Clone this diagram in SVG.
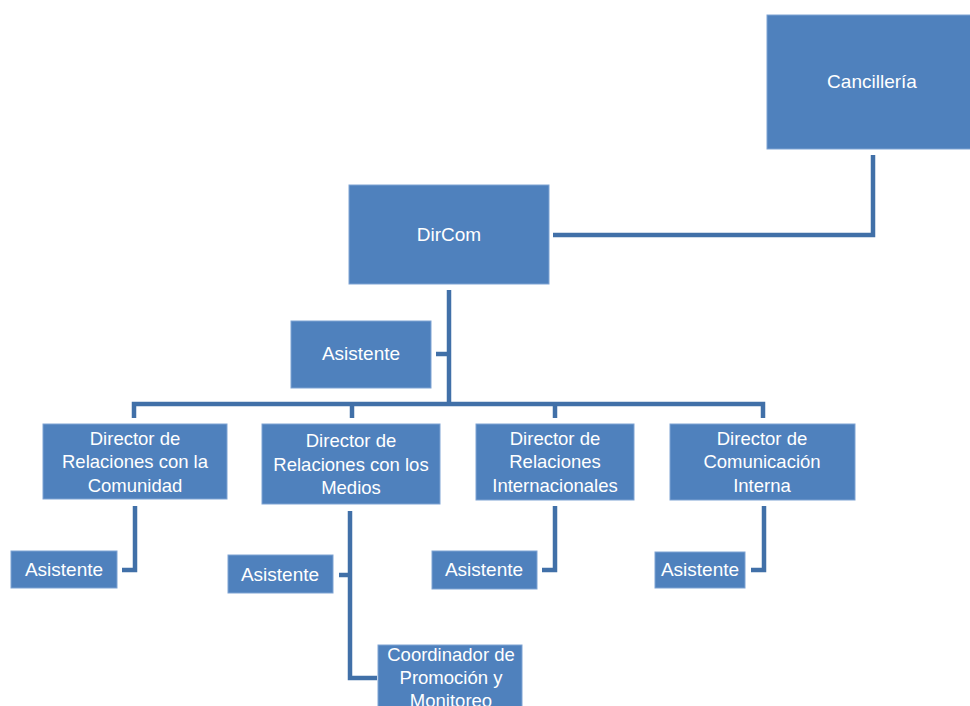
<svg xmlns="http://www.w3.org/2000/svg" width="970" height="706" viewBox="0 0 970 706">
<style>
.box{fill:#4F81BD;stroke:#7FA3D3;stroke-width:1}
.t{font-family:"Liberation Sans",Arial,sans-serif;font-size:19px;fill:#FFFFFF;text-anchor:middle}
.m{font-size:18.5px}
.c{fill:none;stroke:#4170A8;stroke-width:4.5;stroke-linejoin:miter}
</style>
<rect width="970" height="706" fill="#FFFFFF"/>
<g id="connectors">
<polyline class="c" stroke="#3C689E" points="873,155 873,235 553,235"/>
<polyline class="c" points="449,290 449,404"/>
<polyline class="c" points="436,354 449,354"/>
<polyline class="c" points="134,418 134,404 763,404 763,418"/>
<polyline class="c" points="352,404 352,418"/>
<polyline class="c" points="555,404 555,418"/>
<polyline class="c" points="135,506 135,570 122,570"/>
<polyline class="c" points="350,511 350,678 377,678"/>
<polyline class="c" points="339,575 350,575"/>
<polyline class="c" points="555,506 555,570 542,570"/>
<polyline class="c" points="764,506 764,570 751,570"/>
</g>
<g id="cancilleria"><rect class="box" x="767" y="15" width="206" height="134"/><text class="t" x="872" y="88">Cancillería</text></g>
<g id="dircom"><rect class="box" x="349" y="185" width="200" height="99"/><text class="t" x="449" y="241">DirCom</text></g>
<g id="asistente0"><rect class="box" x="291" y="321" width="140" height="67"/><text class="t" x="361" y="360">Asistente</text></g>
<g id="dir1"><rect class="box" x="43" y="424" width="184" height="75"/><text class="t m" x="135"><tspan x="135" y="445">Director de</tspan><tspan x="135" y="468">Relaciones con la</tspan><tspan x="135" y="492">Comunidad</tspan></text></g>
<g id="dir2"><rect class="box" x="262" y="424" width="178" height="80"/><text class="t m" x="351"><tspan x="351" y="447">Director de</tspan><tspan x="351" y="471">Relaciones con los</tspan><tspan x="351" y="494">Medios</tspan></text></g>
<g id="dir3"><rect class="box" x="476" y="424" width="158" height="76"/><text class="t m" x="555"><tspan x="555" y="445">Director de</tspan><tspan x="555" y="468">Relaciones</tspan><tspan x="555" y="492">Internacionales</tspan></text></g>
<g id="dir4"><rect class="box" x="670" y="424" width="185" height="76"/><text class="t m" x="762"><tspan x="762" y="445">Director de</tspan><tspan x="762" y="468">Comunicación</tspan><tspan x="762" y="492">Interna</tspan></text></g>
<g id="asistente1"><rect class="box" x="11" y="551" width="106" height="37"/><text class="t" x="64" y="576">Asistente</text></g>
<g id="asistente2"><rect class="box" x="228" y="555" width="105" height="38"/><text class="t" x="280" y="581">Asistente</text></g>
<g id="asistente3"><rect class="box" x="432" y="551" width="105" height="38"/><text class="t" x="484" y="576">Asistente</text></g>
<g id="asistente4"><rect class="box" x="655" y="552" width="90" height="36"/><text class="t" x="700" y="576">Asistente</text></g>
<g id="coordinador"><rect class="box" x="378" y="645" width="144" height="70"/><text class="t m" x="451"><tspan x="451" y="661">Coordinador de</tspan><tspan x="451" y="684">Promoción y</tspan><tspan x="451" y="707">Monitoreo</tspan></text></g>
</svg>
